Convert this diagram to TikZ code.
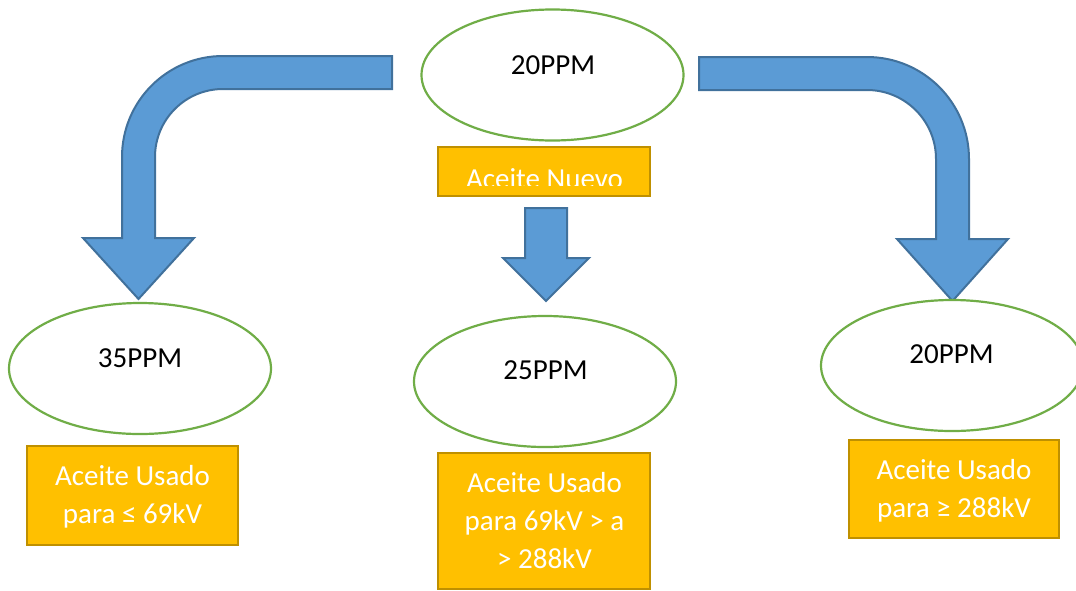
\documentclass[tikz,border=0pt]{standalone}
\usepackage{fontspec}
\setmainfont{Carlito}
\usetikzlibrary{shapes.geometric}
\definecolor{ovalgreen}{HTML}{70AD47}
\definecolor{boxfill}{HTML}{FFC000}
\definecolor{boxline}{HTML}{BF9000}
\definecolor{arrowfill}{HTML}{5B9BD5}
\definecolor{arrowline}{HTML}{41719C}
\tikzset{
  oval/.style={ellipse, draw=ovalgreen, line width=2.2pt, fill=white, minimum width=262pt, minimum height=131pt, inner sep=0pt},
  ovaltext/.style={anchor=base, inner sep=0pt, font=\fontsize{29}{36}\selectfont, text=black},
  infobox/.style={rectangle, draw=boxline, line width=2.2pt, fill=boxfill, inner sep=0pt},
  boxtext/.style={anchor=base, inner sep=0pt, align=center, text=white, font=\fontsize{29}{38}\selectfont},
  blockarrow/.style={fill=arrowfill, draw=arrowline, line width=2pt, line join=miter},
}
\begin{document}
\begin{tikzpicture}[x=1pt,y=-1pt]
\useasboundingbox (0,0) rectangle (1076,590);
% clip to page so the right oval is cut like in the reference
\clip (0,0) rectangle (1076,590);

% block arrows
\draw[blockarrow] (392,56) -- (223,56) arc[start angle=270, end angle=180, radius=101]
  -- (122,238) -- (83,238) -- (138.5,299) -- (194,238) -- (155,238) -- (155,157)
  arc[start angle=180, end angle=270, radius=68] -- (392,89) -- cycle;
\draw[blockarrow] (699,57) -- (867,57) arc[start angle=270, end angle=360, radius=102]
  -- (969,239) -- (1008,239) -- (952.5,301) -- (897,239) -- (936,239) -- (936,159)
  arc[start angle=0, end angle=-90, radius=69] -- (699,90) -- cycle;
\draw[blockarrow] (525,208) -- (567,208) -- (567,258) -- (589,258) -- (546,301)
  -- (503,258) -- (525,258) -- cycle;

% ovals
\node[oval] (top) at (552.5,75) {};
\node[ovaltext] (toptxt) at (553,74) {20PPM};
\node[oval] (left) at (140,368.5) {};
\node[ovaltext] (lefttxt) at (140,367) {35PPM};
\node[oval] (mid) at (545,381.5) {};
\node[ovaltext] (midtxt) at (545.5,379) {25PPM};
\node[oval] (right) at (952,365.5) {};
\node[ovaltext] (righttxt) at (951.5,363) {20PPM};

% boxes
\node[infobox, minimum width=212pt, minimum height=49pt] (nuevo) at (544,171.5) {};
\begin{scope}
\clip (438,147) rectangle (650,185);
\node[boxtext] (nuevotxt) at (544.5,188) {Aceite Nuevo};
\end{scope}
\node[infobox, minimum width=211pt, minimum height=99pt] (usado1) at (132.5,495.5) {};
\node[boxtext] (usado1txt) at (132.5,523) {Aceite Usado\\para ≤ 69kV};
\node[infobox, minimum width=212pt, minimum height=136pt] (usado2) at (544,521) {};
\node[boxtext] (usado2txt) at (544.5,568) {Aceite Usado\\para 69kV > a\\> 288kV};
\node[infobox, minimum width=210pt, minimum height=98pt] (usado3) at (954,489) {};
\node[boxtext] (usado3txt) at (954,517) {Aceite Usado\\para ≥ 288kV};
\end{tikzpicture}
\end{document}
